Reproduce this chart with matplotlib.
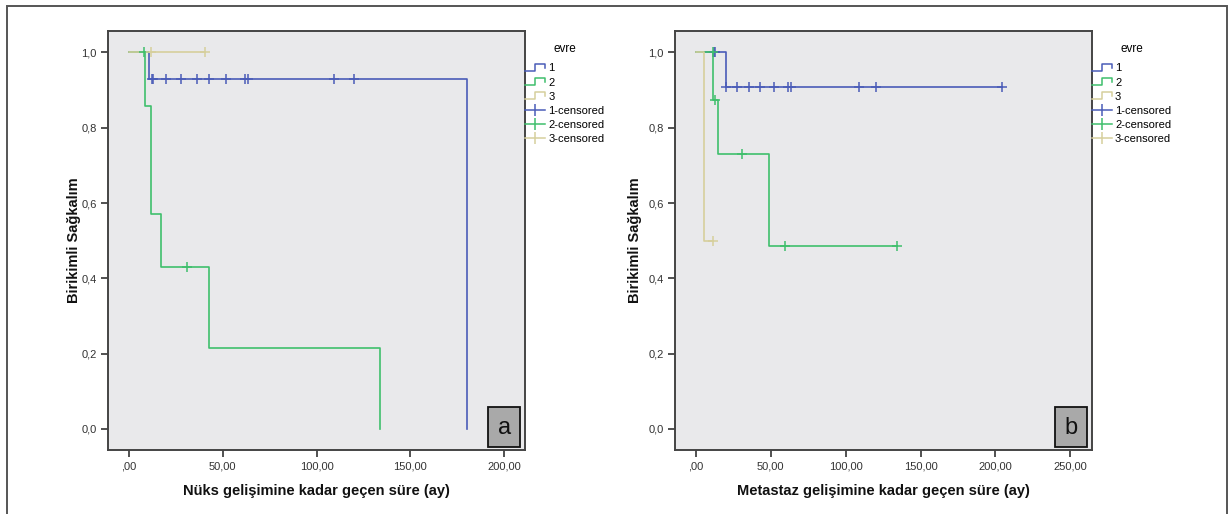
import numpy as np
import matplotlib
matplotlib.use("Agg")
from matplotlib import pyplot as plt
from matplotlib.lines import Line2D
from matplotlib.patches import Rectangle
from matplotlib.legend_handler import HandlerBase

plt.rcParams['font.family'] = ['Liberation Sans', 'DejaVu Sans']

# --- data: Kaplan-Meier steps (time, survival) and censored points ---
# panel a: Nüks
nuks_1_t = [0, 10.8, 180.0]
nuks_1_s = [1.0, 0.929, 0.0]
nuks_2_t = [0, 8.5, 11.7, 16.9, 42.8, 134.0]
nuks_2_s = [1.0, 0.857, 0.571, 0.429, 0.214, 0.0]
nuks_3_t = [0, 40.5]
nuks_3_s = [1.0, 1.0]
nuks_1_cens_t = [12.1, 13.0, 19.9, 27.9, 36.1, 42.8, 51.9, 62.0, 63.4, 109.1, 119.8]
nuks_1_cens_s = [0.929] * 11
nuks_2_cens_t = [8.0, 30.7]
nuks_2_cens_s = [1.0, 0.429]
nuks_3_cens_t = [11.7, 40.5]
nuks_3_cens_s = [1.0, 1.0]

# panel b: Metastaz
meta_1_t = [0, 20.2, 204.2]
meta_1_s = [1.0, 0.909, 0.909]
meta_2_t = [0, 11.8, 15.1, 49.1, 134.1]
meta_2_s = [1.0, 0.875, 0.729, 0.486, 0.486]
meta_3_t = [0, 5.8, 11.8]
meta_3_s = [1.0, 0.5, 0.5]
meta_1_cens_t = [12.4, 12.8, 20.2, 27.8, 35.8, 42.9, 52.0, 61.8, 63.4, 109.2, 120.1, 204.2]
meta_1_cens_s = [1.0, 1.0] + [0.909] * 10
meta_2_cens_t = [11.6, 12.6, 30.9, 59.8, 134.1]
meta_2_cens_s = [1.0, 0.875, 0.729, 0.486, 0.486]
meta_3_cens_t = [11.8]
meta_3_cens_s = [0.5]

groups = ['1', '2', '3']
colors = ['#4a5cb8', '#3fbf6c', '#d6cf9c']

y_ticks = [0.0, 0.2, 0.4, 0.6, 0.8, 1.0]
y_ticklabels = ['0,0', '0,2', '0,4', '0,6', '0,8', '1,0']
x_ticks_a = [0, 50, 100, 150, 200]
x_ticks_b = [0, 50, 100, 150, 200, 250]


def fmt_x(v):
    return ',00' if v == 0 else '{},00'.format(v)


class StepHandler(HandlerBase):
    # little step-curve symbol like in SPSS legends
    def create_artists(self, legend, orig_handle, xdescent, ydescent,
                       width, height, fontsize, trans):
        x0 = -xdescent
        y0 = -ydescent
        xs = [x0, x0 + width * 0.5, x0 + width * 0.5, x0 + width, x0 + width]
        ys = [y0 + height * 0.05, y0 + height * 0.05, y0 + height * 0.95,
              y0 + height * 0.95, y0 + height * 0.45]
        ln = Line2D(xs, ys, color=orig_handle.get_color(), lw=1.1, transform=trans)
        return [ln]


fig = plt.figure(figsize=(12.32, 5.14), dpi=100)
fig.patches.append(Rectangle((7 / 1232, -0.02), 1220 / 1232, 1 - 6 / 514 + 0.02,
                             transform=fig.transFigure, fill=False,
                             edgecolor='#555555', lw=1.4))

panels = [
    dict(left=108, xlim=(-11.2, 211.1), xticks=x_ticks_a, tag='a',
         xlabel='Nüks gelişimine kadar geçen süre (ay)', ylab_off=-0.064,
         steps=[(nuks_1_t, nuks_1_s), (nuks_2_t, nuks_2_s), (nuks_3_t, nuks_3_s)],
         cens=[(nuks_1_cens_t, nuks_1_cens_s), (nuks_2_cens_t, nuks_2_cens_s),
               (nuks_3_cens_t, nuks_3_cens_s)]),
    dict(left=674.7, xlim=(-14.0, 264.2), xticks=x_ticks_b, tag='b',
         xlabel='Metastaz gelişimine kadar geçen süre (ay)', ylab_off=-0.078,
         steps=[(meta_1_t, meta_1_s), (meta_2_t, meta_2_s), (meta_3_t, meta_3_s)],
         cens=[(meta_1_cens_t, meta_1_cens_s), (meta_2_cens_t, meta_2_cens_s),
               (meta_3_cens_t, meta_3_cens_s)]),
]

for p in panels:
    ax = fig.add_axes([p['left'] / 1232, 64 / 514, 417 / 1232, 419 / 514])
    ax.set_facecolor('#e9e9eb')
    for (t, s), c in zip(p['steps'], colors):
        ax.plot(t, s, drawstyle='steps-post', color=c, lw=1.2)
    for (t, s), c in zip(p['cens'], colors):
        ax.plot(t, s, linestyle='none', marker='+', color=c, ms=7, mew=1.1)

    ax.set_xlim(*p['xlim'])
    ax.set_ylim(-0.056, 1.057)
    ax.set_xticks(p['xticks'])
    ax.set_xticklabels([fmt_x(v) for v in p['xticks']])
    ax.set_yticks(y_ticks)
    ax.set_yticklabels(y_ticklabels)
    ax.tick_params(direction='out', length=5, width=1.2, colors='#333333',
                   labelsize=8, pad=3)
    for sp in ax.spines.values():
        sp.set_color('#444444')
        sp.set_linewidth(1.4)

    ax.set_xlabel(p['xlabel'], fontsize=10.5, fontweight='bold', color='#111111')
    ax.xaxis.set_label_coords(0.5, -0.081)
    ax.set_ylabel('Birikimli Sağkalım', fontsize=10.5, fontweight='bold', color='#111111')
    ax.yaxis.set_label_coords(p['ylab_off'], 0.5)

    # panel tag box
    ax.add_patch(Rectangle((0.912, 0.0065), 0.076, 0.0955, transform=ax.transAxes,
                           facecolor='#a9a9a9', edgecolor='#111111', lw=1.3, zorder=5))
    ax.text(0.950, 0.052, p['tag'], transform=ax.transAxes, ha='center', va='center',
            fontsize=17, color='#111111', zorder=6)

    step_handles = [Line2D([], [], color=c) for c in colors]
    cens_handles = [Line2D([0], [0], color=c, marker='|', ms=9, mew=1.1, lw=1.1) for c in colors]
    labels = groups + [g + '-censored' for g in groups]
    handler_map = {h: StepHandler() for h in step_handles}
    leg = ax.legend(step_handles + cens_handles, labels, handler_map=handler_map,
                    title='evre', loc='upper left', bbox_to_anchor=(1.0, 0.971),
                    frameon=False, fontsize=8, title_fontsize=8.5,
                    handlelength=1.8, handletextpad=0.3, labelspacing=0.37,
                    borderaxespad=0.0, borderpad=0.0)
    leg._legend_box.align = 'center'
    leg._legend_box.sep = 6

fig.savefig('out.png', dpi=100, facecolor='white')
